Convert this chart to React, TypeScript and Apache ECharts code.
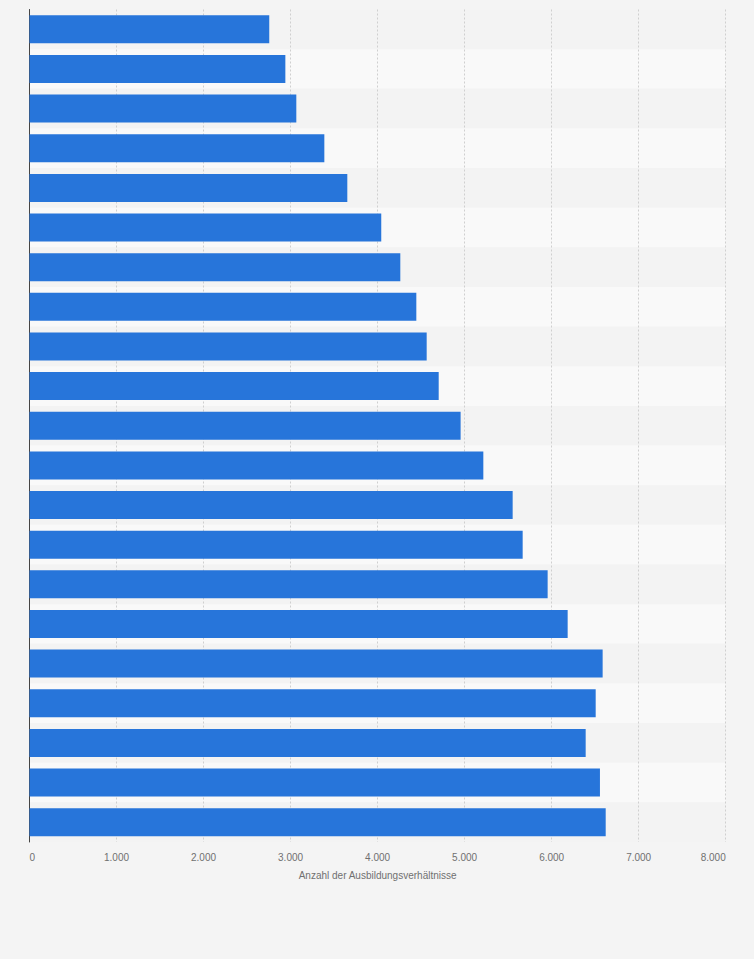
import { useEffect, useRef } from 'react';
import * as echarts from 'echarts';

// category labels are cut off in the picture, only the order is known
const categories = [
  'Beruf 1', 'Beruf 2', 'Beruf 3', 'Beruf 4', 'Beruf 5', 'Beruf 6', 'Beruf 7',
  'Beruf 8', 'Beruf 9', 'Beruf 10', 'Beruf 11', 'Beruf 12', 'Beruf 13', 'Beruf 14',
  'Beruf 15', 'Beruf 16', 'Beruf 17', 'Beruf 18', 'Beruf 19', 'Beruf 20', 'Beruf 21',
];

const values = [
  2755, 2940, 3066, 3388, 3652, 4042, 4261, 4445, 4564, 4702, 4954,
  5215, 5552, 5667, 5954, 6184, 6586, 6506, 6391, 6555, 6621,
];

const axisName = 'Anzahl der Ausbildungsverhältnisse';

const fmt = (v: number) => v.toLocaleString('de-DE');

export default function App() {
  const ref = useRef<HTMLDivElement>(null);

  useEffect(() => {
    if (!ref.current) return;
    document.body.style.margin = '0';
    const chart = echarts.init(ref.current, undefined, { renderer: 'svg' });
    chart.setOption({
      animation: false,
      backgroundColor: '#f4f4f4',
      textStyle: { fontFamily: 'Liberation Sans, Arial, sans-serif' },
      grid: { left: 29.5, right: 28.3, top: 9.5, bottom: 117 },
      xAxis: {
        type: 'value',
        min: 0,
        max: 8000,
        interval: 1000,
        name: axisName,
        nameLocation: 'middle',
        nameGap: 28,
        nameTextStyle: { color: '#707070', fontSize: 10 },
        axisLine: { show: false },
        axisTick: { show: false },
        axisLabel: {
          color: '#707070',
          fontSize: 10,
          margin: 10,
          formatter: (v: number) => fmt(v),
          alignMinLabel: 'left',
          alignMaxLabel: 'right',
        },
        splitLine: { lineStyle: { color: '#cfcfcf', type: [2, 2], width: 1 } },
      },
      yAxis: {
        type: 'category',
        data: categories,
        inverse: true,
        axisLine: { show: true, lineStyle: { color: '#444', width: 1 } },
        axisTick: { show: false },
        axisLabel: { show: false },
        splitArea: { show: true, areaStyle: { color: ['#f3f3f3', '#f9f9f9'] } },
      },
      series: [
        {
          type: 'bar',
          data: values,
          barWidth: 28,
          itemStyle: { color: '#2775da' },
        },
      ],
    });
    return () => chart.dispose();
  }, []);

  return <div ref={ref} style={{ width: 754, height: 959 }} />;
}
